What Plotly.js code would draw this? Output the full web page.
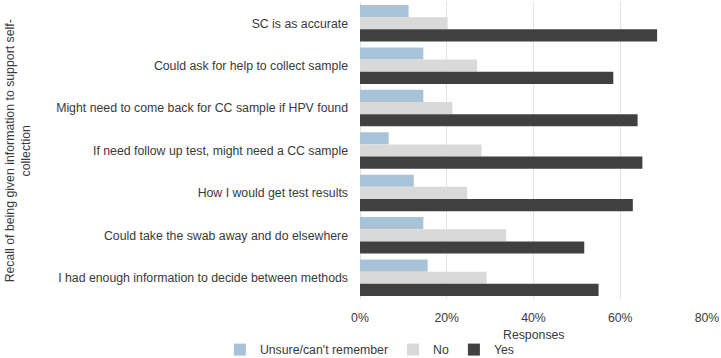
<!DOCTYPE html>
<html>
<head>
<meta charset="utf-8">
<script src="https://cdn.plot.ly/plotly-3.0.1.min.js"></script>
<style>
  html, body { margin: 0; padding: 0; background: #fff; }
  #chart { width: 721px; height: 358px; }
</style>
</head>
<body>
<div id="chart"></div>
<script>
// Statements about self-collection, top to bottom
const statements = [
  "SC is as accurate",
  "Could ask for help to collect sample",
  "Might need to come back for CC sample if HPV found",
  "If need follow up test, might need a CC sample",
  "How I would get test results",
  "Could take the swab away and do elsewhere",
  "I had enough information to decide between methods"
];

// Share of responses (%) per answer
const unsure = [11.2, 14.6, 14.6, 6.6, 12.4, 14.6, 15.6];
const no     = [20.2, 27.0, 21.3, 28.0, 24.7, 33.7, 29.2];
const yes    = [68.5, 58.4, 64.0, 65.1, 62.9, 51.7, 55.0];

const xTicks = [0, 20, 40, 60, 80];
const xTickLabels = ["0%", "20%", "40%", "60%", "80%"];

const xTitle = "Responses";
const yTitle = "Recall of being given information to support self-<br>collection";

const fontFamily = "'Liberation Sans', Arial, sans-serif";
const textColor = "#3a3a3a";
const fontSize = 12.3;

const series = [
  { name: "Unsure/can't remember", x: unsure, color: "#a8c3d8" },
  { name: "No", x: no, color: "#d9d9d9" },
  { name: "Yes", x: yes, color: "#404040" }
];

const traces = series.map(s => ({
  type: "bar",
  orientation: "h",
  name: s.name,
  x: s.x,
  y: statements,
  marker: { color: s.color, line: { width: 0 } },
  hoverinfo: "x+y+name"
}));

const titleFont = { family: fontFamily, size: fontSize, color: textColor };

const layout = {
  width: 721,
  height: 358,
  margin: { l: 360, r: 14, t: 2, b: 59 },
  paper_bgcolor: "#ffffff",
  plot_bgcolor: "#ffffff",
  font: titleFont,
  barmode: "group",
  bargap: 0.14,
  bargroupgap: 0,
  showlegend: true,
  legend: {
    orientation: "h",
    xref: "container",
    yref: "container",
    x: 0.305,
    y: 0.064,
    xanchor: "left",
    yanchor: "top",
    font: titleFont,
    itemwidth: 30,
    tracegroupgap: 0,
    bgcolor: "rgba(0,0,0,0)"
  },
  xaxis: {
    range: [0, 80],
    tickvals: xTicks,
    ticktext: xTickLabels,
    showgrid: true,
    gridcolor: "#e3e3e3",
    gridwidth: 1,
    zeroline: true,
    zerolinecolor: "#e3e3e3",
    zerolinewidth: 1,
    showline: false,
    ticks: "",
    ticklabelstandoff: 10,
    tickfont: titleFont,
    automargin: false,
    fixedrange: true
  },
  yaxis: {
    autorange: "reversed",
    showgrid: false,
    zeroline: false,
    showline: false,
    ticks: "",
    ticklabelstandoff: 11,
    tickfont: titleFont,
    automargin: false,
    fixedrange: true
  },
  annotations: [
    {
      // x-axis title under the tick labels
      text: xTitle,
      xref: "paper",
      yref: "paper",
      x: 0.5,
      y: -0.121,
      xanchor: "center",
      yanchor: "middle",
      showarrow: false,
      font: titleFont
    },
    {
      // rotated y-axis title, wrapped on two lines
      text: yTitle,
      xref: "paper",
      yref: "paper",
      x: -0.986,
      y: 0.5,
      xanchor: "center",
      yanchor: "middle",
      textangle: -90,
      showarrow: false,
      font: titleFont
    }
  ]
};

Plotly.newPlot("chart", traces, layout, { displayModeBar: false, responsive: false });
</script>
</body>
</html>
